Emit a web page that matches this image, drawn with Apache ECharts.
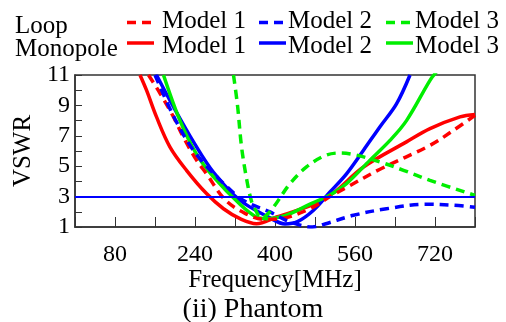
<!DOCTYPE html>
<html>
<head>
<meta charset="utf-8">
<script src="https://cdn.jsdelivr.net/npm/echarts@6/dist/echarts.min.js"></script>
<style>
  html, body { margin: 0; padding: 0; background: #fff; }
  #chart { width: 506px; height: 322px; }
</style>
</head>
<body>
<div id="chart"></div>
<script>
// frequency [MHz], VSWR
const loopModel1 = [[147, 11], [170, 9.8], [197, 8.24], [217, 6.9], [243, 5.4], [263, 4.5], [300, 2.8], [340, 1.9], [380, 1.5], [420, 1.6], [470, 2.2], [510, 3.0], [543, 3.6], [610, 4.8], [710, 6.37], [757, 7.36], [800, 8.35]];
const monoModel1 = [[130, 11], [143, 10], [163, 8.24], [190, 6.26], [223, 4.73], [263, 3.2], [297, 2.2], [330, 1.55], [363, 1.22], [403, 1.66], [463, 2.3], [500, 2.9], [523, 3.4], [577, 4.95], [663, 6.6], [710, 7.47], [770, 8.24], [800, 8.4]];
const loopModel2 = [[160, 11], [200, 8.1], [240, 5.9], [290, 4.1], [337, 2.75], [390, 1.99], [430, 1.33], [475, 1.0], [500, 1.2], [557, 1.77], [623, 2.2], [703, 2.5], [757, 2.43], [800, 2.3]];
const monoModel2 = [[163, 11], [197, 8.9], [237, 6.6], [277, 4.6], [330, 2.76], [390, 1.6], [420, 1.2], [445, 1.35], [477, 2.1], [510, 3.3], [543, 4.5], [577, 6.05], [610, 7.6], [643, 9.1], [670, 11]];
const monoModel3 = [[177, 11], [210, 8.0], [243, 5.8], [277, 4.3], [330, 2.5], [363, 1.66], [385, 1.55], [420, 1.75], [470, 2.5], [510, 3.1], [543, 3.85], [590, 5.4], [630, 6.7], [663, 8.0], [710, 10.65], [723, 11.2]];
const loopModel3 = [[317, 11], [325, 9], [333, 6.3], [343, 4.2], [353, 2.7], [363, 2.0], [372, 1.6], [382, 1.75], [397, 2.3], [430, 3.85], [463, 4.95], [500, 5.7], [530, 5.87], [560, 5.75], [610, 5.28], [657, 4.73], [710, 4.07], [800, 3.08]];
const xTickLabels = [80, 240, 400, 560, 720];
const yTickLabels = [1, 3, 5, 7, 9, 11];
const vswrLimit = 3;

const RED = '#ff0000', BLUE = '#0000ff', GREEN = '#00ee00';
const FONT = 'Liberation Serif';
const DASH = [9, 6];

function curve(name, data, color, dashed) {
  return {
    name: name,
    type: 'line',
    data: data,
    smooth: 0.35,
    showSymbol: false,
    symbol: 'none',
    lineStyle: { color: color, width: 3.5, type: dashed ? DASH : 'solid' },
    z: dashed ? 3 : 2,
  };
}

// legend drawn by hand: two rows, Loop (dashed) and Monopole (solid)
// the row titles sit a little lower than the "Model n" labels, as in the original
const legendItems = [];
const cols = [
  { lx: 127, tx: 162, color: RED, label: 'Model 1' },
  { lx: 259, tx: 288, color: BLUE, label: 'Model 2' },
  { lx: 386, tx: 415, color: GREEN, label: 'Model 3' },
];
const rows = [
  { y: 22.5, titleTop: 13.5, labelTop: 8.5, dashed: true, title: 'Loop' },
  { y: 43, titleTop: 37, labelTop: 34, dashed: false, title: 'Monopole' },
];
rows.forEach(function (row) {
  legendItems.push({
    type: 'text', left: 15, top: row.titleTop,
    style: { text: row.title, font: '25px "' + FONT + '"', fill: '#000' },
  });
  cols.forEach(function (c) {
    legendItems.push({
      type: 'line',
      shape: { x1: c.lx, y1: row.y, x2: c.lx + 27, y2: row.y },
      style: { stroke: c.color, lineWidth: 3.5, lineDash: row.dashed ? DASH : null },
    });
    legendItems.push({
      type: 'text', left: c.tx, top: row.labelTop,
      style: { text: c.label, font: '25px "' + FONT + '"', fill: '#000' },
    });
  });
});

const chart = echarts.init(document.getElementById('chart'), null, { renderer: 'canvas' });
chart.setOption({
  animation: false,
  backgroundColor: '#fff',
  title: {
    text: '(ii) Phantom',
    left: 'center',
    top: 296,
    padding: 0,
    textStyle: { fontFamily: FONT, fontSize: 28, fontWeight: 'normal', color: '#000' },
  },
  grid: {
    left: 75, right: 31, top: 75, bottom: 95,
    show: true, borderColor: '#333', borderWidth: 1.5, backgroundColor: 'transparent',
  },
  xAxis: {
    type: 'value',
    min: 0, max: 800, interval: 80,
    name: 'Frequency[MHz]',
    nameLocation: 'middle',
    nameGap: 39,
    nameTextStyle: { fontFamily: FONT, fontSize: 25, color: '#000' },
    axisLine: { lineStyle: { color: '#333', width: 1.5 } },
    axisTick: { inside: true, length: 10, lineStyle: { color: '#333' } },
    axisLabel: {
      fontFamily: FONT, fontSize: 24, color: '#000', margin: 16,
      formatter: function (v) { return xTickLabels.indexOf(v) >= 0 ? String(v) : ''; },
    },
    splitLine: { show: false },
  },
  yAxis: {
    type: 'value',
    min: 1, max: 11, interval: 1,
    name: 'VSWR',
    nameLocation: 'middle',
    nameRotate: 90,
    nameGap: 33,
    nameTextStyle: { fontFamily: FONT, fontSize: 25, color: '#000' },
    axisLine: { show: true, lineStyle: { color: '#333', width: 1.5 } },
    axisTick: { show: true, inside: true, length: 7, lineStyle: { color: '#333' } },
    axisLabel: {
      fontFamily: FONT, fontSize: 24, color: '#000', margin: 5,
      formatter: function (v) { return yTickLabels.indexOf(v) >= 0 ? String(v) : ''; },
    },
    splitLine: { show: false },
  },
  graphic: legendItems,
  series: [
    Object.assign(curve('Loop Model 1', loopModel1, RED, true), {
      markLine: {
        silent: true, symbol: 'none', label: { show: false },
        lineStyle: { color: BLUE, width: 2, type: 'solid' },
        data: [{ yAxis: vswrLimit }],
      },
    }),
    curve('Monopole Model 1', monoModel1, RED, false),
    curve('Loop Model 2', loopModel2, BLUE, true),
    curve('Monopole Model 2', monoModel2, BLUE, false),
    curve('Monopole Model 3', monoModel3, GREEN, false),
    curve('Loop Model 3', loopModel3, GREEN, true),
  ],
});
</script>
</body>
</html>
